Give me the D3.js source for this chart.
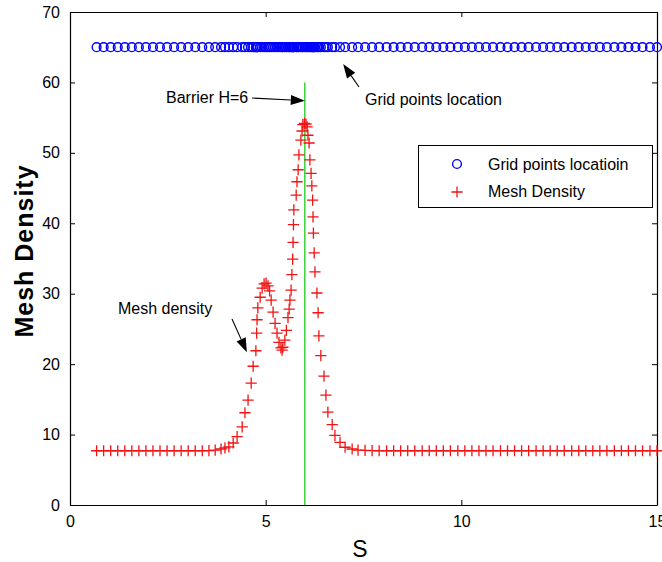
<!DOCTYPE html>
<html>
<head>
<meta charset="utf-8">
<script src="https://cdn.jsdelivr.net/npm/d3@7/dist/d3.min.js"></script>
<style>
  html, body { margin: 0; padding: 0; background: #ffffff; }
  svg { display: block; }
  text { font-family: "Liberation Sans", Arial, Helvetica, sans-serif; }
</style>
</head>
<body>
<svg id="chart" width="662" height="562"></svg>
<script>
// Grid point positions along S (non-uniform mesh, clustered at the two peaks)
const sGrid = [
  0.68, 0.86, 1.04, 1.22, 1.40, 1.58, 1.76, 1.94, 2.12, 2.30, 2.48, 2.66, 2.84, 3.02, 3.20, 3.38, 3.55, 3.71,
  3.86, 3.96, 4.06, 4.17, 4.27, 4.40, 4.47, 4.55, 4.63, 4.68, 4.75, 4.77, 4.78, 4.80, 4.86, 4.91, 4.96, 5.01,
  5.06, 5.10, 5.14, 5.19, 5.24, 5.29, 5.34, 5.39, 5.42, 5.44, 5.49, 5.53, 5.57, 5.60, 5.62, 5.65, 5.67, 5.69,
  5.70, 5.71, 5.72, 5.78, 5.80, 5.83, 5.85, 5.90, 5.93, 5.95, 5.99, 6.03, 6.06, 6.08, 6.11, 6.13, 6.16, 6.18,
  6.20, 6.21, 6.22, 6.24, 6.26, 6.31, 6.34, 6.36, 6.41, 6.49, 6.54, 6.59, 6.70, 6.77, 6.90, 7.03, 7.21, 7.36,
  7.54, 7.72, 7.90, 8.09, 8.27, 8.45, 8.63, 8.81, 9.00, 9.18, 9.36, 9.54, 9.72, 9.91, 10.09, 10.27, 10.45, 10.63,
  10.81, 11.00, 11.18, 11.36, 11.54, 11.72, 11.91, 12.09, 12.27, 12.45, 12.63, 12.82, 13.00, 13.18, 13.36, 13.54,
  13.72, 13.91, 14.09, 14.27, 14.45, 14.63, 14.82, 15.00
];

// Mesh density at each grid point
const meshDensity = [
  7.7, 7.7, 7.7, 7.7, 7.7, 7.7, 7.7, 7.7, 7.7, 7.7, 7.7, 7.7, 7.7, 7.7, 7.7, 7.7, 7.72, 7.8,
  7.95, 8.1, 8.25, 8.8, 9.7, 11.1, 13.1, 14.9, 17.3, 19.7, 21.9, 24.4, 26.3, 28.0, 29.5, 30.8, 31.4, 31.5,
  31.1, 30.4, 29.1, 27.4, 25.8, 24.4, 23.1, 22.3, 22.0, 22.4, 23.4, 24.8, 26.6, 27.8, 29.1, 30.5, 32.7, 34.9,
  37.3, 39.8, 41.9, 44.0, 45.9, 47.6, 49.7, 51.8, 53.1, 54.0, 54.2, 54.1, 53.7, 52.5, 51.4, 49.0, 47.1, 45.3,
  43.3, 40.9, 38.6, 35.8, 33.1, 30.1, 27.3, 24.0, 21.2, 18.3, 15.6, 13.2, 11.4, 9.9, 8.9, 8.2, 7.95, 7.8,
  7.75, 7.72, 7.7, 7.7, 7.7, 7.7, 7.7, 7.7, 7.7, 7.7, 7.7, 7.7, 7.7, 7.7, 7.7, 7.7, 7.7, 7.7,
  7.7, 7.7, 7.7, 7.7, 7.7, 7.7, 7.7, 7.7, 7.7, 7.7, 7.7, 7.7, 7.7, 7.7, 7.7, 7.7,
  7.7, 7.7, 7.7, 7.7, 7.7, 7.7, 7.7, 7.7
];

// Level at which the grid point locations are displayed
const gridRowLevel = 65;

// Barrier position and the height the marker line is drawn to
const barrierS = 6;
const barrierTop = 60;

const xTicks = [0, 5, 10, 15];
const yTicks = [0, 10, 20, 30, 40, 50, 60, 70];

const legendLabels = ["Grid points locatioin", "Mesh Density"];

const W = 662, H = 562;
const plot = { left: 70, right: 657, top: 12, bottom: 505 };

const svg = d3.select("#chart");
svg.append("rect").attr("width", W).attr("height", H).attr("fill", "#ffffff");

const x = d3.scaleLinear().domain([0, 15]).range([plot.left, plot.right]);
const y = d3.scaleLinear().domain([0, 70]).range([plot.bottom, plot.top]);

const blue = "#0000ff";
const red = "#f01414";
const green = "#44d444";

// ---- Axes (box with inward ticks on all four sides) ----
const tickFont = "16px";
const axes = svg.append("g").attr("class", "axes");

const axB = d3.axisBottom(x).tickValues(xTicks).tickSizeInner(-5).tickSizeOuter(0).tickPadding(11)
  .tickFormat(d3.format("d"));
const axL = d3.axisLeft(y).tickValues(yTicks).tickSizeInner(-5).tickSizeOuter(0).tickPadding(10)
  .tickFormat(d3.format("d"));
const axT = d3.axisTop(x).tickValues(xTicks).tickSizeInner(-5).tickSizeOuter(0).tickFormat("");
const axR = d3.axisRight(y).tickValues(yTicks).tickSizeInner(-5).tickSizeOuter(0).tickFormat("");

function styleAxis(g) {
  g.selectAll("path.domain").attr("stroke", "#000").attr("stroke-width", 1.2);
  g.selectAll(".tick line").attr("stroke", "#000").attr("stroke-width", 1);
  g.selectAll(".tick text").attr("fill", "#000").style("font-size", tickFont)
    .style("font-family", "'Liberation Sans', Arial, sans-serif");
}

axes.append("g").attr("transform", `translate(0,${plot.bottom})`).call(axB).call(styleAxis);
axes.append("g").attr("transform", `translate(${plot.left},0)`).call(axL).call(styleAxis);
axes.append("g").attr("transform", `translate(0,${plot.top})`).call(axT).call(styleAxis);
axes.append("g").attr("transform", `translate(${plot.right},0)`).call(axR).call(styleAxis);

// ---- Barrier line ----
svg.append("line")
  .attr("x1", x(barrierS)).attr("x2", x(barrierS))
  .attr("y1", y(0)).attr("y2", y(barrierTop))
  .attr("stroke", green).attr("stroke-width", 1.6);

// ---- Grid point locations (circles) ----
const circleR = 4.4;
svg.append("g").selectAll("circle")
  .data(sGrid)
  .join("circle")
  .attr("cx", d => x(d))
  .attr("cy", y(gridRowLevel))
  .attr("r", circleR)
  .attr("fill", "none")
  .attr("stroke", blue)
  .attr("stroke-width", 1.4);

// ---- Mesh density (plus markers) ----
const plusArm = 5.6;
const plusPath = `M${-plusArm},0H${plusArm}M0,${-plusArm}V${plusArm}`;
svg.append("g").selectAll("path")
  .data(sGrid.map((s, i) => [s, meshDensity[i]]))
  .join("path")
  .attr("transform", d => `translate(${x(d[0])},${y(d[1])})`)
  .attr("d", plusPath)
  .attr("fill", "none")
  .attr("stroke", red)
  .attr("stroke-width", 1.3);

// ---- Annotations with arrows ----
function arrow(x1, y1, x2, y2) {
  const g = svg.append("g");
  const ang = Math.atan2(y2 - y1, x2 - x1);
  const len = 14, half = 5;
  const bx = x2 - len * Math.cos(ang), by = y2 - len * Math.sin(ang);
  g.append("line").attr("x1", x1).attr("y1", y1).attr("x2", bx).attr("y2", by)
    .attr("stroke", "#000").attr("stroke-width", 1.1);
  const p = [
    [x2, y2],
    [bx + half * Math.sin(ang), by - half * Math.cos(ang)],
    [bx - half * Math.sin(ang), by + half * Math.cos(ang)]
  ];
  g.append("path").attr("d", "M" + p.map(q => q.join(",")).join("L") + "Z").attr("fill", "#000");
}

const annFont = "16px";
svg.append("text").attr("x", 166).attr("y", 103).style("font-size", annFont).text("Barrier H=6");
arrow(252, 98, x(barrierS), y(57.4));

svg.append("text").attr("x", 365).attr("y", 105).style("font-size", annFont).text("Grid points location");
arrow(359, 87, x(6.98), y(62.6));

svg.append("text").attr("x", 118).attr("y", 314).style("font-size", annFont).text("Mesh density");
arrow(232, 319, x(4.52), y(21.7));

// ---- Legend ----
const lg = svg.append("g");
lg.append("rect").attr("x", 418.5).attr("y", 145.5).attr("width", 234).attr("height", 62)
  .attr("fill", "#ffffff").attr("stroke", "#000").attr("stroke-width", 1);
lg.append("circle").attr("cx", 457).attr("cy", 164).attr("r", circleR)
  .attr("fill", "none").attr("stroke", blue).attr("stroke-width", 1.4);
lg.append("path").attr("transform", "translate(457,192)").attr("d", plusPath)
  .attr("fill", "none").attr("stroke", red).attr("stroke-width", 1.3);
legendLabels.forEach((t, i) => {
  lg.append("text").attr("x", 488).attr("y", 170 + i * 27).style("font-size", "16px").text(t);
});

// ---- Axis titles ----
svg.append("text")
  .attr("transform", `translate(33,251) rotate(-90)`)
  .attr("text-anchor", "middle")
  .style("font-size", "25px").style("font-weight", "bold").style("letter-spacing", "1px")
  .text("Mesh Density");

svg.append("text")
  .attr("x", 360).attr("y", 557)
  .attr("text-anchor", "middle")
  .style("font-size", "23px")
  .text("S");
</script>
</body>
</html>
